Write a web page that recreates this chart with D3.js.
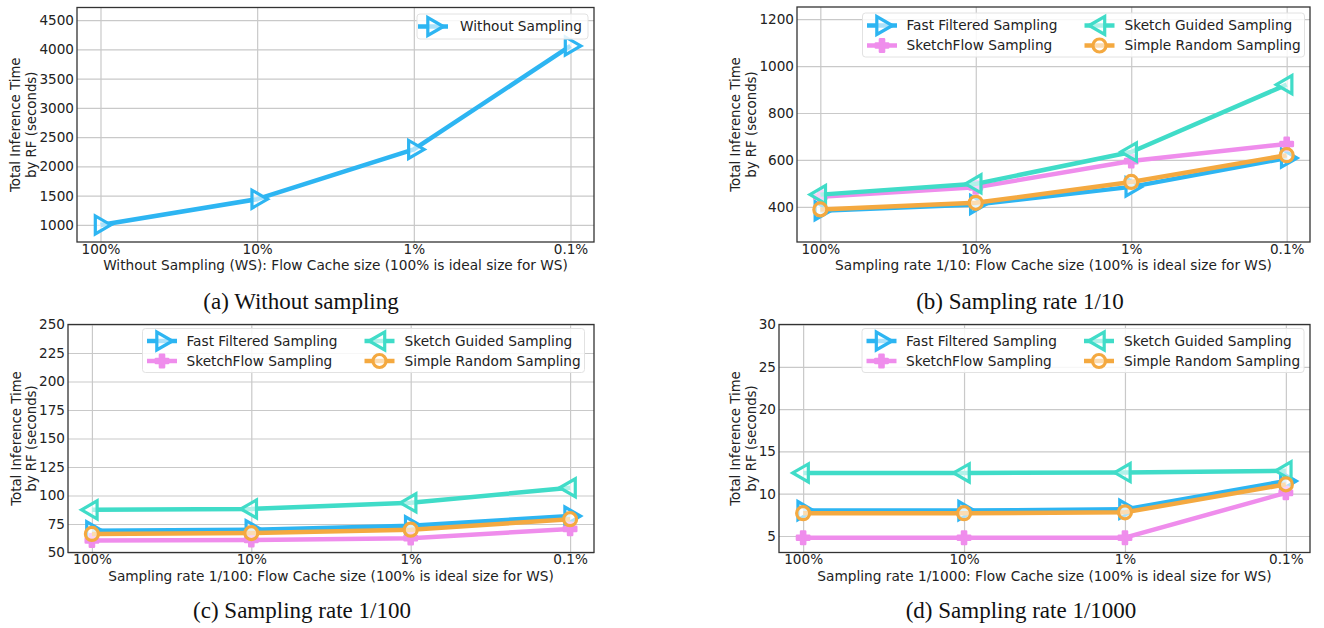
<!DOCTYPE html>
<html>
<head>
<meta charset="utf-8">
<script src="https://cdnjs.cloudflare.com/ajax/libs/d3/7.8.5/d3.min.js"></script>
<style>
  body { margin: 0; background: #fff; }
  svg text { font-family: "DejaVu Sans", sans-serif; }
</style>
</head>
<body>
<div id="chart"></div>
<script>
// x categories (flow cache size)
const cacheSizes = ["100%", "10%", "1%", "0.1%"];

// (a) without sampling
const noSampling = [1000, 1440, 2290, 4060];

// (b) sampling rate 1/10
const fast10 = [383, 410, 485, 608];
const flow10 = [443, 483, 595, 668];
const guided10 = [452, 498, 634, 921];
const random10 = [389, 417, 506, 620];

// (c) sampling rate 1/100
const fast100 = [69, 70, 73.4, 82];
const flow100 = [60.5, 61, 62.6, 70.7];
const guided100 = [87.4, 88.2, 93.6, 106.8];
const random100 = [66.3, 67, 70, 79.2];

// (d) sampling rate 1/1000
const fast1000 = [8.0, 8.0, 8.15, 11.5];
const flow1000 = [4.8, 4.8, 4.8, 10.1];
const guided1000 = [12.45, 12.45, 12.5, 12.7];
const random1000 = [7.7, 7.7, 7.8, 11.1];

// y tick labels
const ticksA = [1000, 1500, 2000, 2500, 3000, 3500, 4000, 4500];
const ticksB = [400, 600, 800, 1000, 1200];
const ticksC = [50, 75, 100, 125, 150, 175, 200, 225, 250];
const ticksD = [5, 10, 15, 20, 25, 30];

const seriesNames = ["Fast Filtered Sampling", "SketchFlow Sampling", "Sketch Guided Sampling", "Simple Random Sampling"];

// look of each method
const styles = {
    fast:   { color: '#2db5f2', marker: 'right' },
    flow:   { color: '#ef8dec', marker: 'plus' },
    guided: { color: '#40dcc8', marker: 'left' },
    random: { color: '#f4a940', marker: 'circle' }
};

const svg = d3.select('#chart').append('svg')
    .attr('width', 1324)
    .attr('height', 628);

function drawMarker(g, kind, color) {
    if (kind === 'circle') {
        g.append('circle')
            .attr('r', 6.5)
            .attr('fill', 'white')
            .attr('fill-opacity', 0.6)
            .attr('stroke', color)
            .attr('stroke-width', 3.2);
    } else if (kind === 'plus') {
        g.append('path')
            .attr('d', d3.symbol(d3.symbolCross, 85)())
            .attr('fill', color)
            .attr('stroke', color)
            .attr('stroke-width', 2.5)
            .attr('stroke-linejoin', 'round');
    } else {
        g.append('path')
            .attr('d', d3.symbol(d3.symbolTriangle, 140)())
            .attr('transform', `rotate(${kind === 'right' ? 90 : -90})`)
            .attr('fill', 'white')
            .attr('fill-opacity', 0.6)
            .attr('stroke', color)
            .attr('stroke-width', 3.2)
            .attr('stroke-linejoin', 'miter');
    }
}

function drawPanel(cfg) {
    const g = svg.append('g');
    const x = d3.scaleLinear().domain([-0.15, 3.15]).range([cfg.left, cfg.right]);
    const y = d3.scaleLinear().domain(cfg.yDomain).range([cfg.bottom, cfg.top]);

    // y axis + horizontal grid
    const yAxis = g.append('g')
        .attr('transform', `translate(${cfg.left},0)`)
        .call(d3.axisLeft(y).tickValues(cfg.yTicks).tickFormat(d3.format('d'))
            .tickSize(-(cfg.right - cfg.left)).tickPadding(3));
    // x axis + vertical grid
    const xAxis = g.append('g')
        .attr('transform', `translate(0,${cfg.bottom})`)
        .call(d3.axisBottom(x).tickValues([0, 1, 2, 3]).tickFormat(i => cacheSizes[i])
            .tickSize(-(cfg.bottom - cfg.top)).tickPadding(2));

    [yAxis, xAxis].forEach(ax => {
        ax.select('.domain').remove();
        ax.selectAll('.tick line').attr('stroke', '#c9c9c9').attr('stroke-width', 1.2);
        ax.selectAll('.tick text')
            .attr('fill', '#222')
            .style('font-size', '13.6px');
    });

    // frame
    g.append('rect')
        .attr('x', cfg.left)
        .attr('y', cfg.top)
        .attr('width', cfg.right - cfg.left)
        .attr('height', cfg.bottom - cfg.top)
        .attr('fill', 'none')
        .attr('stroke', '#333')
        .attr('stroke-width', 1.3);

    const line = d3.line().x((d, i) => x(i)).y(d => y(d));

    cfg.series.forEach(s => {
        g.append('path')
            .datum(s.values)
            .attr('d', line)
            .attr('fill', 'none')
            .attr('stroke', s.style.color)
            .attr('stroke-width', 4.5)
            .attr('stroke-linejoin', 'round');
        s.values.forEach((v, i) => {
            const m = g.append('g').attr('transform', `translate(${x(i)},${y(v)})`);
            drawMarker(m, s.style.marker, s.style.color);
        });
    });

    // legend
    const lg = cfg.legend;
    g.append('rect')
        .attr('x', lg.x)
        .attr('y', lg.y)
        .attr('width', lg.w)
        .attr('height', lg.h)
        .attr('rx', 3)
        .attr('fill', 'white')
        .attr('fill-opacity', 0.85)
        .attr('stroke', '#e2e2e2');
    cfg.series.forEach((s, i) => {
        const col = Math.floor(i / 2);
        const row = i % 2;
        const cx = lg.x + lg.markerX[col];
        const cy = lg.y + lg.rowY[row];
        g.append('line')
            .attr('x1', cx - 15).attr('x2', cx + 15)
            .attr('y1', cy).attr('y2', cy)
            .attr('stroke', s.style.color)
            .attr('stroke-width', 4.5);
        drawMarker(g.append('g').attr('transform', `translate(${cx},${cy})`), s.style.marker, s.style.color);
        g.append('text')
            .attr('x', lg.x + lg.textX[col])
            .attr('y', cy)
            .attr('dy', '0.35em')
            .attr('fill', '#222')
            .style('font-size', '13.7px')
            .text(s.name);
    });

    // y label (two lines)
    const cyMid = (cfg.top + cfg.bottom) / 2;
    ['Total Inference Time', 'by RF (seconds)'].forEach((t, i) => {
        g.append('text')
            .attr('transform', `translate(${cfg.yLabelX[i]},${cyMid}) rotate(-90)`)
            .attr('text-anchor', 'middle')
            .attr('dominant-baseline', 'central')
            .attr('fill', '#222')
            .style('font-size', '13.3px')
            .text(t);
    });

    // x label
    g.append('text')
        .attr('x', (cfg.left + cfg.right) / 2)
        .attr('y', cfg.bottom + 28)
        .attr('text-anchor', 'middle')
        .attr('fill', '#222')
        .style('font-size', '13.7px')
        .text(cfg.xTitle);

    // caption
    g.append('text')
        .attr('x', cfg.capX)
        .attr('y', cfg.capY)
        .attr('text-anchor', 'middle')
        .attr('fill', '#111')
        .style('font-family', '"Liberation Serif", "Times New Roman", serif')
        .style('font-size', '23px')
        .text(cfg.caption);
}

function fourSeries(fast, flow, guided, random) {
    return [
        { name: seriesNames[0], values: fast, style: styles.fast },
        { name: seriesNames[1], values: flow, style: styles.flow },
        { name: seriesNames[2], values: guided, style: styles.guided },
        { name: seriesNames[3], values: random, style: styles.random }
    ];
}

const legend4 = (lx, ly) => ({ x: lx, y: ly, w: 442, h: 44, markerX: [19.5, 237], textX: [44, 262], rowY: [12.5, 32.5] });

drawPanel({
    left: 77, right: 594, top: 7.5, bottom: 242,
    yDomain: [708, 4717], yTicks: ticksA,
    yLabelX: [15, 31],
    xTitle: 'Without Sampling (WS): Flow Cache size (100% is ideal size for WS)',
    caption: '(a) Without sampling', capX: 301, capY: 309,
    series: [{ name: 'Without Sampling', values: noSampling, style: styles.fast }],
    legend: { x: 417, y: 14, w: 171, h: 25, markerX: [16], textX: [43], rowY: [12.5] }
});

drawPanel({
    left: 797, right: 1310, top: 7, bottom: 242,
    yDomain: [250, 1252], yTicks: ticksB,
    yLabelX: [735, 751],
    xTitle: 'Sampling rate 1/10: Flow Cache size (100% is ideal size for WS)',
    caption: '(b) Sampling rate 1/10', capX: 1020, capY: 309,
    series: fourSeries(fast10, flow10, guided10, random10),
    legend: legend4(862.5, 13)
});

drawPanel({
    left: 68, right: 594, top: 324.5, bottom: 552.5,
    yDomain: [50, 250], yTicks: ticksC,
    yLabelX: [16, 31],
    xTitle: 'Sampling rate 1/100: Flow Cache size (100% is ideal size for WS)',
    caption: '(c) Sampling rate 1/100', capX: 302, capY: 618,
    series: fourSeries(fast100, flow100, guided100, random100),
    legend: legend4(142.5, 328.5)
});

drawPanel({
    left: 779, right: 1310, top: 324.5, bottom: 552.5,
    yDomain: [3.05, 30], yTicks: ticksD,
    yLabelX: [735, 751],
    xTitle: 'Sampling rate 1/1000: Flow Cache size (100% is ideal size for WS)',
    caption: '(d) Sampling rate 1/1000', capX: 1021, capY: 618,
    series: fourSeries(fast1000, flow1000, guided1000, random1000),
    legend: legend4(862, 328.5)
});
</script>
</body>
</html>
